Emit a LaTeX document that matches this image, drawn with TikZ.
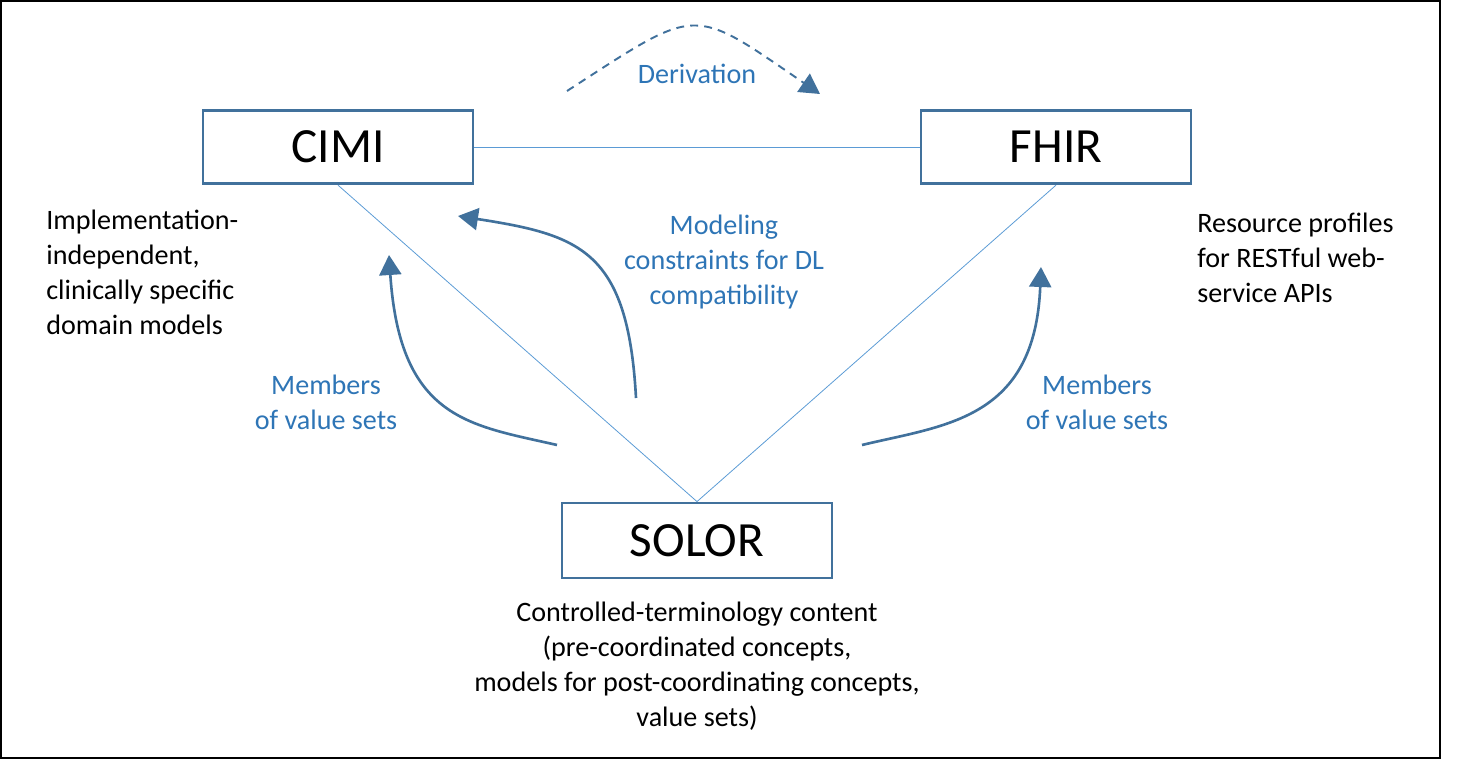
\documentclass[tikz,border=0pt]{standalone}
\usepackage{fontspec}
\setmainfont{Carlito}
\usetikzlibrary{positioning, arrows.meta}

\definecolor{boxblue}{HTML}{41719C}
\definecolor{lineblue}{HTML}{5B9BD5}
\definecolor{textblue}{HTML}{2E75B6}

\begin{document}
\begin{tikzpicture}[
    box/.style={draw=boxblue, line width=1.6pt, minimum width=5.4cm, minimum height=1.47cm,
      font=\fontsize{28}{34}\selectfont},
    link/.style={lineblue, line width=0.45pt},
    flow/.style={boxblue, line width=1.5pt, -{Triangle[width=0.44cm,length=0.4cm]}},
    lbl/.style={textblue, align=center, font=\fontsize{16}{20}\selectfont},
    note/.style={black, font=\fontsize{16}{20}\selectfont}
  ]
  \useasboundingbox (0,0) rectangle (29.58,15.2);
  \draw[black, line width=0.9pt] (0.02,0.04) rectangle (28.8,15.18);

  \draw (6.76,12.26) node[box] (cimi) {CIMI};
  \draw (21.12,12.26) node[box] (fhir) {FHIR};
  \draw (13.94,4.39) node[box, minimum height=1.5cm] (solor) {SOLOR};

  \draw[link] (cimi.east) -- (fhir.west);
  \draw[link] (cimi.south) -- (solor.north);
  \draw[link] (fhir.south) -- (solor.north);

  % derivation
  \coordinate (d0) at (11.34,13.38); \coordinate (d1) at (16.4,13.32);
  \draw[flow, line width=1.1pt, dash pattern=on 4.5pt off 3.5pt]
    (d0) .. controls (14.0,15.1) and (13.8,15.1) .. (d1);
  \draw (13.94,13.72) node[lbl] (der) {Derivation};

  % modeling constraints
  \coordinate (m0) at (12.72,7.24); \coordinate (m1) at (9.16,10.88);
  \draw[flow] (m0) .. controls (12.56,10.2) and (11.6,10.5) .. (m1);
  \draw (14.48,9.96) node[lbl] (mod) {Modeling\\constraints for DL\\compatibility};

  % value sets
  \coordinate (l0) at (11.14,6.3); \coordinate (l1) at (7.78,10.1);
  \draw[flow] (l0) .. controls (9.4,6.7) and (8.0,6.8) .. (l1);
  \draw (6.52,7.16) node[lbl] (mleft) {Members\\of value sets};

  \coordinate (r0) at (17.24,6.3); \coordinate (r1) at (20.82,9.86);
  \draw[flow] (r0) .. controls (18.9,6.7) and (20.7,6.8) .. (r1);
  \draw (21.94,7.16) node[lbl] (mright) {Members\\of value sets};

  \draw (0.92,9.75) node[note, anchor=west, align=left, inner sep=0pt] (cimitxt)
    {Implementation-\\independent,\\clinically specific\\domain models};
  \draw (23.94,10.04) node[note, anchor=west, align=left, inner sep=0pt] (fhirtxt)
    {Resource profiles\\for RESTful web-\\service APIs};
  \draw (13.94,1.88) node[note, align=center] (solortxt)
    {Controlled-terminology content\\(pre-coordinated concepts,\\models for post-coordinating concepts,\\value sets)};

\end{tikzpicture}
\end{document}
